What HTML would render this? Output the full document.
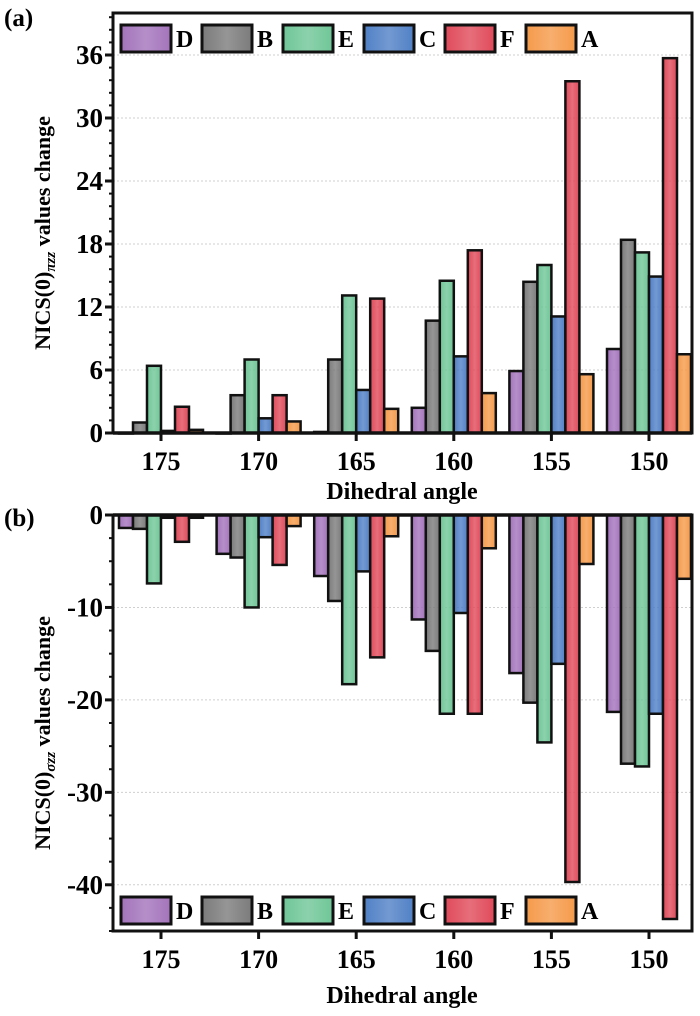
<!DOCTYPE html>
<html><head><meta charset="utf-8">
<style>
html,body{margin:0;padding:0;background:#fff;}
svg{display:block;}
svg text{font-family:"Liberation Serif","DejaVu Serif",serif;font-weight:bold;}
</style></head>
<body>
<svg id="chart" width="700" height="1016" viewBox="0 0 700 1016" xmlns="http://www.w3.org/2000/svg">
<defs></defs>
</svg>
<script>
const categories = ["175","170","165","160","155","150"];
const seriesNames = ["D","B","E","C","F","A"];
const seriesColors = ["#a373bb","#7b7b7b","#6fc697","#5080c6","#e04a5a","#f59a4a"];
const piD = [0, 0, 0.1, 2.4, 5.9, 8.0];
const piB = [1.0, 3.6, 7.0, 10.7, 14.4, 18.4];
const piE = [6.4, 7.0, 13.1, 14.5, 16.0, 17.2];
const piC = [0.2, 1.4, 4.1, 7.3, 11.1, 14.9];
const piF = [2.5, 3.6, 12.8, 17.4, 33.5, 35.7];
const piA = [0.3, 1.1, 2.3, 3.8, 5.6, 7.5];
const sgD = [-1.4, -4.2, -6.6, -11.3, -17.1, -21.3];
const sgB = [-1.5, -4.6, -9.3, -14.7, -20.3, -26.9];
const sgE = [-7.4, -10.0, -18.3, -21.5, -24.6, -27.2];
const sgC = [-0.3, -2.4, -6.1, -10.6, -16.1, -21.5];
const sgF = [-2.9, -5.4, -15.4, -21.5, -39.7, -43.7];
const sgA = [-0.3, -1.2, -2.3, -3.6, -5.3, -6.9];
const ticksA = [0, 6, 12, 18, 24, 30, 36];
const ticksB = [0, -10, -20, -30, -40];

const NS = "http://www.w3.org/2000/svg";
const svg = document.getElementById("chart");
const defs = svg.querySelector("defs");
const FF = '"Liberation Serif","DejaVu Serif",serif';
function mk(tag, attrs, parent){
  const e = document.createElementNS(NS, tag);
  for (const k in attrs) e.setAttribute(k, attrs[k]);
  if (tag === "text") { e.setAttribute("font-family", FF); e.setAttribute("font-weight", "bold"); }
  (parent || svg).appendChild(e);
  return e;
}
seriesColors.forEach((c, i) => {
  const g = mk("linearGradient", {id: "g" + i, x1: "0", x2: "1", y1: "0", y2: "0"}, defs);
  mk("stop", {offset: "0", "stop-color": c}, g);
  mk("stop", {offset: "0.5", "stop-color": c, "stop-opacity": "0.8"}, g);
  mk("stop", {offset: "1", "stop-color": c}, g);
});

const X0 = 113, X1 = 692;
const step = 97.6, firstTick = 161, barW = 14;
function xCat(i){ return firstTick + step * i; }

function panel(opt){
  const {top, bottom, vmin, vmax, ticks, minorStep, series, titleY, letter, letterY, legendY, tickLabelY, ytitleHtml, name} = opt;
  const g = mk("g", {});
  
  
  const y = v => top + (vmax - v) / (vmax - vmin) * (bottom - top);
  ticks.forEach(t => {
    if (t === 0) return;
    const l = mk("line", {x1: X0, x2: X1, y1: y(t), y2: y(t), stroke: "#cfcfcf", "stroke-width": 1, "stroke-dasharray": "2,2"}, g);
    
    
  });
  series.forEach((vals, s) => {
    vals.forEach((v, i) => {
      const x = xCat(i) - 3 * barW + s * barW;
      const y0 = y(0), y1 = y(v);
      const r = mk("rect", {x: x, y: Math.min(y0, y1), width: barW, height: Math.max(Math.abs(y1 - y0), 0.5), fill: "url(#g" + s + ")", stroke: "#111", "stroke-width": 2.5}, g);
      
      
    });
  });
  const fr = mk("rect", {x: X0, y: top, width: X1 - X0, height: bottom - top, fill: "none", stroke: "#111", "stroke-width": 3}, g);
  
  
  const za = mk("line", {x1: X0, x2: X1, y1: y(0), y2: y(0), stroke: "#111", "stroke-width": 3.5}, g);
  
  
  for (let v = vmin; v <= vmax + 0.001; v += minorStep) {
    const m = mk("line", {x1: X0 - 4, x2: X0, y1: y(v), y2: y(v), stroke: "#111", "stroke-width": 2}, g);
    
    
  }
  ticks.forEach(t => {
    const tk = mk("line", {x1: X0 - 8, x2: X0, y1: y(t), y2: y(t), stroke: "#111", "stroke-width": 3}, g);
    
    
    const tx = mk("text", {x: X0 - 10, y: y(t) + 9, "text-anchor": "end", "font-size": 27}, g);
    tx.textContent = t;
    
    
  });
  categories.forEach((c, i) => {
    const tk = mk("line", {x1: xCat(i), x2: xCat(i), y1: bottom, y2: bottom + 8, stroke: "#111", "stroke-width": 3}, g);
    
    
    const tx = mk("text", {x: xCat(i), y: tickLabelY, "text-anchor": "middle", "font-size": 26}, g);
    tx.textContent = c;
    
    
  });
  const xt = mk("text", {x: 402, y: titleY, "text-anchor": "middle", "font-size": 24}, g);
  xt.textContent = "Dihedral angle";
  
  
  const pl = mk("text", {x: 4, y: letterY, "font-size": 25}, g);
  pl.textContent = letter;
  
  
  const yt = mk("text", {x: 0, y: 0, "text-anchor": "middle", "font-size": 22, transform: "translate(50," + ((top + bottom) / 2 + 10) + ") rotate(-90)"}, g);
  yt.innerHTML = ytitleHtml;
  
  
  seriesNames.forEach((n, s) => {
    const lx = 121 + s * 81;
    const lb = mk("rect", {x: lx, y: legendY, width: 50, height: 27, fill: "url(#g" + s + ")", stroke: "#111", "stroke-width": 3}, g);
    
    
    const lt = mk("text", {x: lx + 55, y: legendY + 22, "font-size": 24}, g);
    lt.textContent = n;
    
    
  });
  return y;
}

panel({name: "panel-a", top: 13, bottom: 433, vmin: 0, vmax: 40, ticks: ticksA, minorStep: 1.2,
  series: [piD, piB, piE, piC, piF, piA], tickLabelY: 470, titleY: 499, letter: "(a)", letterY: 26,
  legendY: 25, ytitleHtml: 'NICS(0)<tspan font-style="italic" font-size="15" dy="5">πzz</tspan><tspan dy="-5"> values change</tspan>'});
panel({name: "panel-b", top: 515, bottom: 931, vmin: -45, vmax: 0, ticks: ticksB, minorStep: 2.5,
  series: [sgD, sgB, sgE, sgC, sgF, sgA], tickLabelY: 968, titleY: 1003, letter: "(b)", letterY: 526,
  legendY: 897, ytitleHtml: 'NICS(0)<tspan font-style="italic" font-size="15" dy="5">σzz</tspan><tspan dy="-5"> values change</tspan>'});
</script>
</body></html>
